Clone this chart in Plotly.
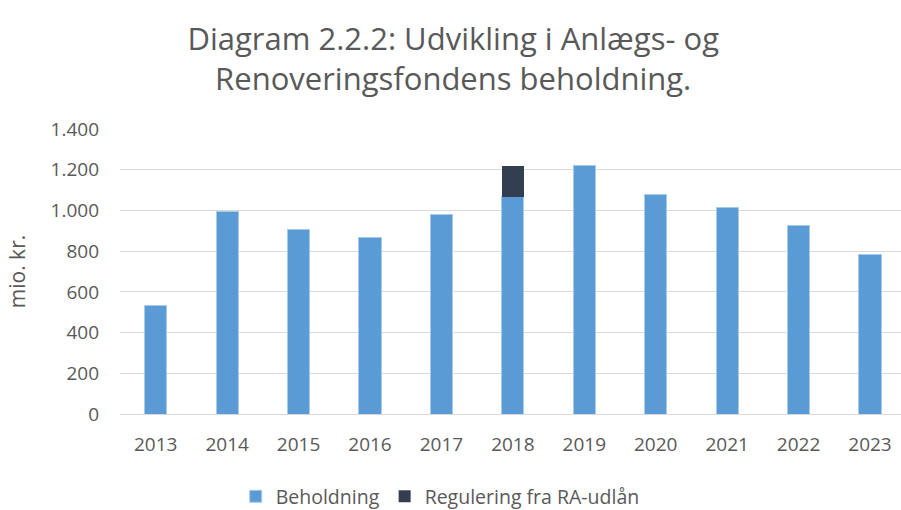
import plotly.graph_objects as go

years = ["2013", "2014", "2015", "2016", "2017", "2018", "2019", "2020", "2021", "2022", "2023"]
beholdning = [532, 993, 906, 869, 980, 1067, 1223, 1076, 1015, 926, 784]
regulering = [0, 0, 0, 0, 0, 153, 0, 0, 0, 0, 0]
y_ticks = [0, 200, 400, 600, 800, 1000, 1200, 1400]
y_tick_labels = ["0", "200", "400", "600", "800", "1.000", "1.200", "1.400"]

font = "Open Sans, Noto Sans, sans-serif"
grey = "#595959"

fig = go.Figure()
fig.add_trace(go.Bar(x=years, y=beholdning, name="Beholdning",
                     marker=dict(color="#5B9BD5", line=dict(color="#A9CBEB", width=1))))
fig.add_trace(go.Bar(x=years, y=regulering, name="Regulering fra RA-udlån",
                     marker=dict(color="#333F50", line=dict(width=0))))

fig.update_layout(
    width=901, height=510,
    barmode="stack", bargap=0.69,
    paper_bgcolor="white", plot_bgcolor="white",
    margin=dict(l=120, r=0, t=129, b=96, autoexpand=False),
    title=dict(text="Diagram 2.2.2: Udvikling i Anlægs- og<br>Renoveringsfondens beholdning.",
               x=0.503, xanchor="center", xref="container", yref="container", y=0.902, yanchor="top",
               font=dict(family=font, size=31, color=grey)),
    font=dict(family=font, color=grey),
    showlegend=True,
    legend=dict(orientation="h", x=0.41, xanchor="center", y=-0.29, yanchor="middle",
                font=dict(family=font, size=19.5, color=grey), traceorder="normal",
                itemwidth=30),
    xaxis=dict(type="category", range=[-0.5, 10.434], showgrid=False, showline=False,
               ticks="", tickfont=dict(size=19, color=grey), ticklabelstandoff=17),
    yaxis=dict(range=[0, 1400], tickvals=y_ticks, ticktext=y_tick_labels,
               showgrid=True, gridcolor="#D9D9D9", gridwidth=1,
               zeroline=True, zerolinecolor="#D9D9D9", zerolinewidth=1,
               tickfont=dict(size=19, color=grey), ticks="", ticklen=0, ticklabelstandoff=20,
               title=dict(text="mio. kr.", font=dict(size=21, color=grey), standoff=19)),
)

fig.write_html("out.html", config={"displayModeBar": False},
               post_script="document.body.style.margin='0';")
